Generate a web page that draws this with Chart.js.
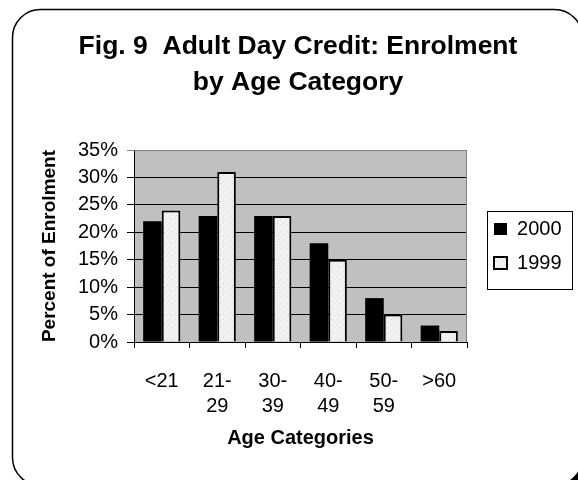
<!DOCTYPE html>
<html>
<head>
<meta charset="utf-8">
<script src="https://cdn.jsdelivr.net/npm/chart.js@4.4.1/dist/chart.umd.min.js"></script>
<style>
  body { margin: 0; background: #fff; }
  canvas { display: block; }
</style>
</head>
<body>
<canvas id="chart" width="578" height="480"></canvas>
<script>
// data
const categories = [["<21"], ["21-", "29"], ["30-", "39"], ["40-", "49"], ["50-", "59"], [">60"]];
const seriesNames = ["2000", "1999"];
const values2000 = [22, 23, 23, 18, 8, 3];
const values1999 = [24, 31, 23, 15, 5, 2];
const yTicks = [0, 5, 10, 15, 20, 25, 30, 35];

Chart.defaults.font.family = "'Liberation Sans', Arial, sans-serif";
Chart.defaults.color = "#000";

// speckled light fill for the 1999 bars
const makePattern = function () {
  const c = document.createElement("canvas");
  c.width = 6;
  c.height = 6;
  const g = c.getContext("2d");
  g.fillStyle = "#f2f2f2";
  g.fillRect(0, 0, 6, 6);
  g.fillStyle = "#d4d4d4";
  g.fillRect(1, 1, 1, 1);
  g.fillRect(4, 3, 1, 1);
  g.fillStyle = "#e2e2e2";
  g.fillRect(2, 5, 1, 1);
  return g.createPattern(c, "repeat");
};

// rounded outer frame with a dark shadow
const framePlugin = {
  id: "frame",
  beforeDraw(chart) {
    const ctx = chart.ctx;
    ctx.save();
    ctx.fillStyle = "#fff";
    ctx.fillRect(0, 0, chart.width, chart.height);
    ctx.beginPath();
    ctx.roundRect(18.5, 15.5, 570, 476, 28);
    ctx.fillStyle = "#000";
    ctx.fill();
    ctx.beginPath();
    ctx.roundRect(12.5, 9.5, 570, 476, 28);
    ctx.fillStyle = "#fff";
    ctx.fill();
    ctx.lineWidth = 1.5;
    ctx.strokeStyle = "#000";
    ctx.stroke();
    ctx.restore();
  },
};

// grey plot background + grey top/right edge
const plotPlugin = {
  id: "plotBg",
  beforeDraw(chart) {
    const a = chart.chartArea;
    const ctx = chart.ctx;
    ctx.save();
    ctx.fillStyle = "#c0c0c0";
    ctx.fillRect(a.left, a.top, a.right - a.left, a.bottom - a.top);
    ctx.restore();
  },
  afterDatasetsDraw(chart) {
    const a = chart.chartArea;
    const ctx = chart.ctx;
    ctx.save();
    ctx.strokeStyle = "#808080";
    ctx.lineWidth = 1;
    ctx.beginPath();
    ctx.moveTo(a.left, a.top + 0.5);
    ctx.lineTo(a.right - 0.5, a.top + 0.5);
    ctx.lineTo(a.right - 0.5, a.bottom);
    ctx.stroke();
    ctx.restore();
  },
};

// nudge the legend right and box it
const legendBoxPlugin = {
  id: "legendBox",
  afterLayout(chart) {
    chart.legend.left += 13;
    chart.legend.right += 13;
  },
  afterDraw(chart) {
    const boxes = chart.legend.legendHitBoxes;
    if (!boxes || !boxes.length) return;
    const first = boxes[0];
    const last = boxes[boxes.length - 1];
    const ctx = chart.ctx;
    ctx.save();
    ctx.strokeStyle = "#000";
    ctx.lineWidth = 1;
    const top = Math.round(first.top - 8) + 0.5;
    const bottom = Math.round(last.top + 36) + 0.5;
    ctx.strokeRect(Math.round(first.left - 7) + 0.5, top, 85, bottom - top);
    ctx.restore();
  },
};

new Chart(document.getElementById("chart"), {
  type: "bar",
  data: {
    labels: categories,
    datasets: [
      {
        label: seriesNames[0],
        data: values2000,
        backgroundColor: "#000",
        borderColor: "#000",
        borderWidth: 0,
      },
      {
        label: seriesNames[1],
        data: values1999,
        backgroundColor: makePattern(),
        borderColor: "#000",
        borderWidth: 2,
      },
    ],
  },
  options: {
    responsive: false,
    animation: false,
    layout: { padding: { left: 37.5, right: 19.5, top: 0, bottom: 0 } },
    datasets: {
      bar: { categoryPercentage: 0.67, barPercentage: 1 },
    },
    plugins: {
      title: {
        display: true,
        text: ["Fig. 9  Adult Day Credit: Enrolment", "by Age Category"],
        font: { size: 26.5, weight: "bold", lineHeight: 1.36 },
        color: "#000",
        padding: { top: 29, bottom: 49 },
      },
      legend: {
        position: "right",
        fullSize: false,
        labels: {
          boxWidth: 13,
          boxHeight: 12,
          padding: 14,
          font: { size: 20 },
          color: "#000",
        },
      },
      tooltip: { enabled: false },
    },
    scales: {
      x: {
        grid: {
          offset: true,
          drawOnChartArea: false,
          color: "#000",
          tickLength: 6,
        },
        border: { color: "#000", width: 1 },
        ticks: {
          font: { size: 20, lineHeight: 1.25 },
          color: "#000",
          padding: 21,
          maxRotation: 0,
          autoSkip: false,
        },
        title: {
          display: true,
          text: "Age Categories",
          font: { size: 20, weight: "bold" },
          color: "#000",
          padding: { top: 0, bottom: 30 },
        },
        afterFit(scale) {
          scale.height = 138;
        },
      },
      y: {
        min: 0,
        max: 35,
        afterBuildTicks(scale) {
          scale.ticks = yTicks.map((v) => ({ value: v }));
        },
        grid: {
          color: (c) => (c.tick && c.tick.value === 35 ? "#808080" : "#000"),
          tickLength: 7,
        },
        border: { color: "#000", width: 1 },
        ticks: {
          font: { size: 20 },
          color: "#000",
          padding: 9,
          callback: (v) => v + "%",
        },
        title: {
          display: true,
          text: "Percent of Enrolment",
          font: { size: 19, weight: "bold" },
          color: "#000",
          padding: { top: 1, bottom: 0 },
        },
        afterFit(scale) {
          scale.width = 96.5;
        },
      },
    },
  },
  plugins: [framePlugin, plotPlugin, legendBoxPlugin],
});
</script>
</body>
</html>
